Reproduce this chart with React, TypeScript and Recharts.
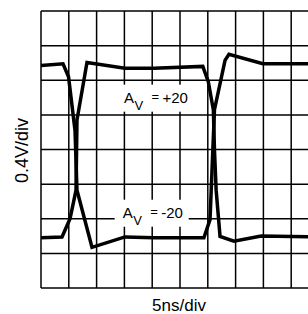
import React from "react";
import {
  LineChart,
  Line,
  XAxis,
  YAxis,
  CartesianGrid,
  ReferenceDot,
} from "recharts";

// time in ns, amplitude in V
const minusTimes = [0, 3.96, 4.95, 6.12, 6.47, 9.17, 15.1, 20.3, 29.3, 30.4, 30.9, 31.2, 33.1, 33.8, 39.9, 50];
const minusVolts = [0.97, 0.99, 0.84, 0.22, -0.47, -1.13, -1.01, -1.02, -1.02, -0.81, -0.01, 0.46, 1.03, 1.1, 0.99, 0.99];

const plusTimes = [0, 3.78, 5.22, 6.3, 6.47, 8.27, 15.1, 20.3, 29.1, 30.1, 31.0, 31.2, 31.5, 32.2, 34.7, 39.6, 50];
const plusVolts = [-1.02, -1.01, -0.8, -0.47, 0.34, 1.005, 0.94, 0.94, 0.96, 0.78, 0.456, -0.006, -0.47, -1.005, -1.06, -1.0, -1.01];

const xTicks = [0, 5, 10, 15, 20, 25, 30, 35, 40, 45, 50];
const yTicks = [-1.6, -1.2, -0.8, -0.4, 0, 0.4, 0.8, 1.2, 1.6];

const labelT = [14.93, 14.69];
const labelV = [0.541, -0.788];
const labelGain = ["+20", "-20"];

const minusData = minusTimes.map((t, i) => ({ t, v: minusVolts[i] }));
const plusData = plusTimes.map((t, i) => ({ t, v: plusVolts[i] }));

const FONT = "'Liberation Sans Narrow', 'Liberation Sans', Arial, sans-serif";
const LABEL_FONT = "'Liberation Sans', Arial, sans-serif";

function GainLabel(props: any) {
  const { cx, cy, gain } = props;
  return (
    <g>
      <rect x={cx - 8} y={cy - 18} width={74} height={27} fill="#fff" />
      <text x={cx} y={cy} fontFamily={LABEL_FONT} fontSize={15} fill="#000">
        A
      </text>
      <text x={cx + 10.5} y={cy + 7.5} fontFamily={LABEL_FONT} fontSize={13} fill="#000">
        V
      </text>
      <text x={cx + 27.5} y={cy - 2} fontFamily={LABEL_FONT} fontSize={13} fill="#000">
        =
      </text>
      <text x={cx + 38.5} y={cy} fontFamily={LABEL_FONT} fontSize={15} fill="#000">
        {gain}
      </text>
    </g>
  );
}

const noTick = () => <g />;

export default function App() {
  return (
    <div
      style={{
        position: "fixed",
        left: 0,
        top: 0,
        width: 308,
        height: 314,
        overflow: "hidden",
        background: "#fff",
      }}
    >
      <LineChart width={330} height={314} margin={{ top: 11, right: 11, left: 0, bottom: 0 }}>
        <CartesianGrid stroke="#000" strokeWidth={1.5} />
        <XAxis
          type="number"
          dataKey="t"
          domain={[0, 50]}
          ticks={xTicks}
          interval={0}
          height={26}
          tick={noTick}
          tickLine={false}
          axisLine={false}
          allowDataOverflow
          label={{
            content: () => (
              <text x={179} y={311} textAnchor="middle" fontFamily={FONT} fontSize={17} fill="#000">
                5ns/div
              </text>
            ),
          }}
        />
        <YAxis
          type="number"
          dataKey="v"
          domain={[-1.6, 1.6]}
          ticks={yTicks}
          interval={0}
          width={41}
          tick={noTick}
          tickLine={false}
          axisLine={false}
          allowDataOverflow
          label={{
            content: () => (
              <text
                x={28}
                y={150.5}
                transform="rotate(-90 28 150.5)"
                textAnchor="middle"
                fontFamily={FONT}
                fontSize={18}
                fill="#000"
              >
                0.4V/div
              </text>
            ),
          }}
        />
        <Line
          data={minusData}
          dataKey="v"
          type="linear"
          stroke="#000"
          strokeWidth={3.5}
          dot={false}
          isAnimationActive={false}
        />
        <Line
          data={plusData}
          dataKey="v"
          type="linear"
          stroke="#000"
          strokeWidth={3.5}
          dot={false}
          isAnimationActive={false}
        />
        {labelT.map((t, i) => (
          <ReferenceDot
            key={i}
            x={t}
            y={labelV[i]}
            r={0}
            shape={(p: any) => <GainLabel {...p} gain={labelGain[i]} />}
          />
        ))}
      </LineChart>
    </div>
  );
}
